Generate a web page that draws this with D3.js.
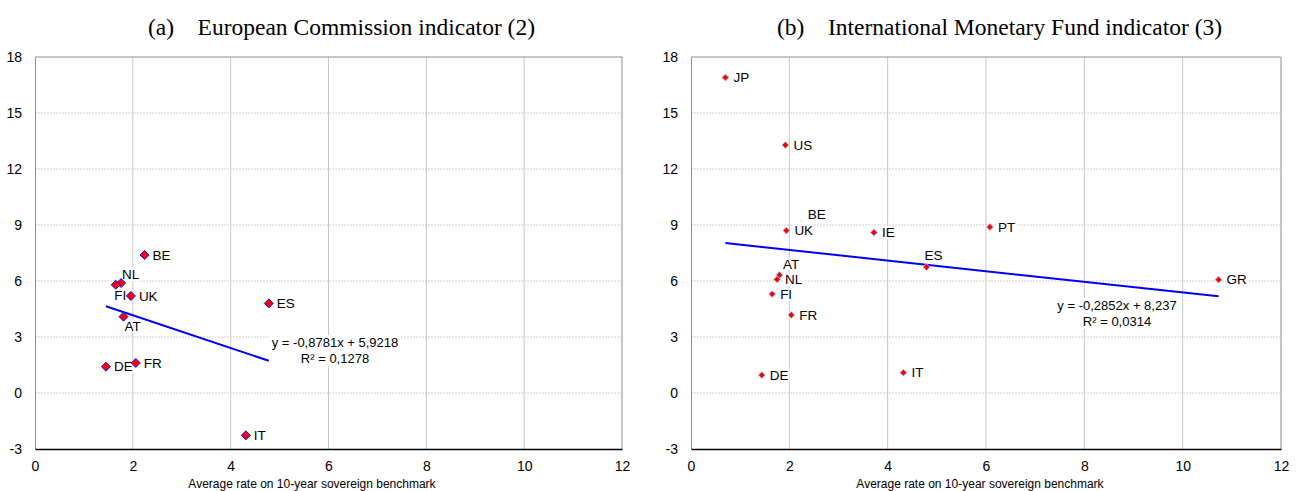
<!DOCTYPE html>
<html lang="en">
<head>
    <meta charset="UTF-8">
    <title>Indicators vs 10-year rate</title>
    <script src="https://d3js.org/d3.v7.min.js" charset="utf-8"></script>
    <style>
        body {
            margin: 0;
            background: #fff;
        }
        .title {
            font-family: 'Liberation Serif', 'Times New Roman', serif;
            font-size: 23.5px;
            fill: #000;
        }
        .tick text {
            font-family: 'Liberation Sans', Arial, sans-serif;
            font-size: 14px;
            fill: #000;
        }
        .axisTitle {
            font-family: 'Liberation Sans', Arial, sans-serif;
            font-size: 12px;
        }
        .ptLabel {
            font-family: 'Liberation Sans', Arial, sans-serif;
            font-size: 13.5px;
        }
        .eq {
            font-family: 'Liberation Sans', Arial, sans-serif;
            font-size: 13px;
        }
    </style>
</head>
<body>
    <div id="chart"></div>
    <script>
        // x ticks / y ticks shared by both panels
        const xTicks = [0, 2, 4, 6, 8, 10, 12];
        const yTicks = [-3, 0, 3, 6, 9, 12, 15, 18];

        // (a) European Commission indicator
        const ecCountries = ["BE", "NL", "FI", "UK", "AT", "DE", "FR", "ES", "IT"];
        const ecRate = [2.24, 1.76, 1.65, 1.96, 1.81, 1.45, 2.06, 4.78, 4.31];
        const ecValue = [7.39, 5.89, 5.80, 5.20, 4.09, 1.41, 1.61, 4.80, -2.27];

        // (b) International Monetary Fund indicator
        const imfCountries = ["JP", "US", "BE", "UK", "IE", "PT", "AT", "NL", "FI", "FR", "ES", "DE", "IT", "GR"];
        const imfRate = [0.70, 1.92, 2.24, 1.94, 3.72, 6.08, 1.80, 1.75, 1.65, 2.04, 4.79, 1.44, 4.32, 10.73];
        const imfValue = [16.90, 13.28, 9.23, 8.70, 8.60, 8.89, 6.32, 6.09, 5.30, 4.18, 6.75, 0.96, 1.09, 6.07];

        // linear trends as printed on the chart: slope, intercept, R2
        const ecTrend = [-0.8781, 5.9218, 0.1278];
        const imfTrend = [-0.2852, 8.237, 0.0314];

        const gap = "\u00a0\u00a0\u00a0\u00a0";
        const panels = [
            {
                title: "(a)" + gap + "European Commission indicator (2)",
                countries: ecCountries, rate: ecRate, value: ecValue, trend: ecTrend,
                left: 35, right: 622, titleX: 148, axisTitleX: 312,
                eqX: 335, eqY: 347,
                marker: { size: 52, fill: "#ff0000", stroke: "#1010ff", sw: 1 },
                place: { NL: [1, -8.5], FI: [-1.5, 11], AT: [1, 10] }
            },
            {
                title: "(b)" + gap + "International Monetary Fund indicator (3)",
                countries: imfCountries, rate: imfRate, value: imfValue, trend: imfTrend,
                left: 691, right: 1281, titleX: 777, axisTitleX: 980,
                eqX: 1117, eqY: 310,
                marker: { size: 30, fill: "#ff0000", stroke: "#9ad0ee", sw: 0.8 },
                place: { BE: [6.6, -6], AT: [3.4, -11], ES: [-2, -11.6] },
                hidden: ["BE"]
            }
        ];

        const width = 1301, height = 491;
        const plotTop = 57, plotBottom = 449;

        const svg = d3.select("#chart").append("svg")
            .attr("width", width)
            .attr("height", height);

        const fmt = v => String(v).replace(".", ",");

        panels.forEach(p => {
            const x = d3.scaleLinear().domain([0, 12]).range([p.left, p.right]);
            const y = d3.scaleLinear().domain([-3, 18]).range([plotBottom, plotTop]);
            const g = svg.append("g");

            // title
            g.append("text").attr("class", "title")
                .attr("x", p.titleX).attr("y", 35)
                .text(p.title);

            // gridlines
            g.selectAll(".vg").data(xTicks.slice(1)).enter().append("line")
                .attr("x1", d => x(d)).attr("x2", d => x(d))
                .attr("y1", plotTop).attr("y2", plotBottom)
                .attr("stroke", d => d === 12 ? "#8c8c8c" : "#c8c8c8")
                .attr("stroke-width", 1);
            g.selectAll(".hg").data(yTicks.slice(1)).enter().append("line")
                .attr("x1", p.left).attr("x2", p.right)
                .attr("y1", d => y(d)).attr("y2", d => y(d))
                .attr("stroke", d => d === 18 ? "#8c8c8c" : "#cfcfcf")
                .attr("stroke-dasharray", d => d === 18 ? null : "2,1")
                .attr("stroke-width", 1);

            // y axis
            const yAxis = g.append("g")
                .attr("transform", `translate(${p.left},0)`)
                .call(d3.axisLeft(y).tickValues(yTicks).tickSize(0).tickPadding(13)
                    .tickFormat(d => String(d)));
            yAxis.select(".domain").attr("stroke", "#8c8c8c");

            // x axis
            const xAxis = g.append("g")
                .attr("transform", `translate(0,${plotBottom})`)
                .call(d3.axisBottom(x).tickValues(xTicks).tickSize(0).tickPadding(12));
            xAxis.select(".domain").attr("stroke", "#000").attr("stroke-width", 1.5);

            g.append("text").attr("class", "axisTitle")
                .attr("x", p.axisTitleX).attr("y", 488)
                .attr("text-anchor", "middle")
                .text("Average rate on 10-year sovereign benchmark");

            // trend line from min to max rate
            const [slope, intercept, r2] = p.trend;
            const ext = d3.extent(p.rate);
            g.append("line")
                .attr("x1", x(ext[0])).attr("y1", y(slope * ext[0] + intercept))
                .attr("x2", x(ext[1])).attr("y2", y(slope * ext[1] + intercept))
                .attr("stroke", "#0000ee").attr("stroke-width", 2);

            // labels with white boxes
            const pts = p.countries.map((c, i) => ({ c, xv: p.rate[i], yv: p.value[i] }));
            const lab = g.selectAll(".lab").data(pts).enter().append("g");
            lab.append("rect").attr("fill", "#fff");
            lab.append("text").attr("class", "ptLabel")
                .attr("x", d => x(d.xv) + (p.place[d.c] ? p.place[d.c][0] : 8))
                .attr("y", d => y(d.yv) + (p.place[d.c] ? p.place[d.c][1] : 0))
                .attr("dy", "0.35em")
                .text(d => d.c);
            lab.each(function () {
                const t = d3.select(this).select("text").node().getBBox();
                d3.select(this).select("rect")
                    .attr("x", t.x - 1).attr("y", t.y + 1)
                    .attr("width", t.width + 2).attr("height", t.height - 2);
            });

            // equation box
            const eq = g.append("g");
            eq.append("rect").attr("fill", "#fff");
            const et = eq.append("text").attr("class", "eq").attr("text-anchor", "middle");
            et.append("tspan").attr("x", p.eqX).attr("y", p.eqY)
                .text(`y = ${fmt(slope)}x + ${fmt(intercept)}`);
            et.append("tspan").attr("x", p.eqX).attr("y", p.eqY + 16)
                .text(`R\u00b2 = ${fmt(r2)}`);
            const eb = et.node().getBBox();
            eq.select("rect").attr("x", eb.x - 2).attr("y", eb.y)
                .attr("width", eb.width + 4).attr("height", eb.height);

            // markers
            const hidden = p.hidden || [];
            g.selectAll(".pt").data(pts).enter().append("path")
                .attr("transform", d => `translate(${x(d.xv)},${y(d.yv)})`)
                .attr("d", d => d3.symbol(d3.symbolDiamond2, hidden.includes(d.c) ? 3 : p.marker.size)())
                .attr("fill", d => hidden.includes(d.c) ? "#bfe3f5" : p.marker.fill)
                .attr("stroke", d => hidden.includes(d.c) ? "none" : p.marker.stroke)
                .attr("stroke-width", p.marker.sw);
        });
    </script>
</body>
</html>
